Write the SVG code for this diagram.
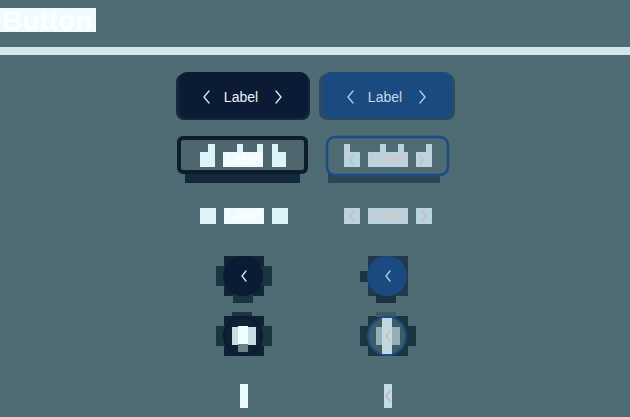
<svg xmlns="http://www.w3.org/2000/svg" width="630" height="417" viewBox="0 0 630 417">
<style>
.lbl{font-family:"Liberation Sans",Arial,sans-serif;font-size:14px;text-anchor:middle}
.chev{fill:none;stroke-width:1.3;stroke-linecap:round;stroke-linejoin:round}
.shadow{fill:#13283a}
.lt{fill:#dcf5fa}
.lb{fill:#bad3dc}
</style>
<rect width="630" height="417" fill="#4f6b73"/>
<g id="title">
<rect x="0" y="8" width="96" height="24" fill="#eefcff"/>
<text x="2" y="30" font-family="Liberation Sans,Arial,sans-serif" font-size="28" font-weight="bold" fill="#ffffff">Button</text>
</g>
<rect id="divider" x="0" y="47" width="630" height="8" fill="#d4e6ec"/>

<g id="btn-primary-dark">
<rect x="176" y="74" width="134" height="46" rx="8" class="shadow"/>
<rect x="179" y="72" width="129" height="46" rx="8" fill="#0b1a35"/>
<polyline class="chev" points="209,91 204,97 209,103" stroke="#dfe6f0"/>
<text class="lbl" x="241" y="102" fill="#eef2f8">Label</text>
<polyline class="chev" points="276,91 281,97 276,103" stroke="#dfe6f0"/>
</g>
<g id="btn-primary-blue">
<rect x="319" y="74" width="136" height="46" rx="8" fill="#2a4a66"/>
<rect x="323" y="72" width="129" height="46" rx="8" fill="#1b4a80"/>
<polyline class="chev" points="353,91 348,97 353,103" stroke="#b8cde3"/>
<text class="lbl" x="385" y="102" fill="#c8d8ea">Label</text>
<polyline class="chev" points="420,91 425,97 420,103" stroke="#b8cde3"/>
</g>

<g id="btn-outline-dark">
<rect x="185" y="170" width="115" height="13" class="shadow"/>
<rect x="179" y="138" width="127" height="34" rx="4" fill="#50666e" stroke="#0c1d2e" stroke-width="4"/>
<rect x="200" y="152" width="15" height="15" class="lt"/>
<rect x="208" y="144" width="7" height="8" class="lt"/>
<rect x="223" y="152" width="40" height="15" fill="#eefcff"/>
<rect x="237" y="144" width="6" height="8" class="lt"/>
<rect x="257" y="144" width="6" height="8" class="lt"/>
<rect x="272" y="152" width="14" height="15" class="lt"/>
<rect x="272" y="144" width="6" height="8" class="lt"/>
<text class="lbl" x="243" y="164" font-size="12" fill="#ffffff">Label</text>
<polyline class="chev" points="209,155 206,159.5 209,164" stroke="#f2e6ea"/>
<polyline class="chev" points="276,155 279,159.5 276,164" stroke="#f2e6ea"/>
</g>
<g id="btn-outline-blue">
<rect x="328" y="172" width="112" height="11" fill="#2a4556"/>
<rect x="327" y="137" width="121" height="38" rx="8" fill="#4f6b73" stroke="#1d4b85" stroke-width="2.5"/>
<rect x="344" y="152" width="16" height="15" class="lb"/>
<rect x="344" y="144" width="6" height="8" class="lb"/>
<rect x="368" y="152" width="40" height="15" class="lb"/>
<rect x="380" y="144" width="6" height="8" class="lb"/>
<rect x="398" y="144" width="6" height="8" class="lb"/>
<rect x="416" y="152" width="16" height="15" class="lb"/>
<rect x="426" y="144" width="6" height="8" class="lb"/>
<text class="lbl" x="388" y="164" font-size="12" fill="#d0c8cc">Label</text>
<polyline class="chev" points="353,155 350,159.5 353,164" stroke="#c9b8be"/>
<polyline class="chev" points="420,155 423,159.5 420,164" stroke="#c9b8be"/>
</g>

<g id="btn-text-dark">
<rect x="200" y="208" width="16" height="16" class="lt"/>
<rect x="224" y="208" width="40" height="16" fill="#eefcff"/>
<rect x="272" y="208" width="16" height="16" class="lt"/>
<text class="lbl" x="244" y="220" font-size="12" fill="#ffffff">Label</text>
<polyline class="chev" points="210,212 206,216 210,220" stroke="#f2e6ea"/>
<polyline class="chev" points="278,212 282,216 278,220" stroke="#f2e6ea"/>
</g>
<g id="btn-text-blue">
<rect x="344" y="208" width="16" height="16" class="lb"/>
<rect x="368" y="208" width="40" height="16" class="lb"/>
<rect x="416" y="208" width="16" height="16" class="lb"/>
<text class="lbl" x="388" y="220" font-size="12" fill="#d4c9cd">Label</text>
<polyline class="chev" points="354,212 350,216 354,220" stroke="#c9b8be"/>
<polyline class="chev" points="422,212 426,216 422,220" stroke="#c9b8be"/>
</g>

<g id="icon-solid-dark">
<rect x="224" y="256" width="40" height="40" fill="#102434"/>
<rect x="216" y="266" width="56" height="20" fill="#1a3440"/>
<rect x="233" y="294" width="20" height="9" fill="#1a3440"/>
<circle cx="243" cy="276" r="20" fill="#0b1a35"/>
<polyline class="chev" points="246,271 242,276 246,281" stroke="#dfe6f0"/>
</g>
<g id="icon-solid-blue">
<rect x="368" y="256" width="40" height="40" fill="#203a4c"/>
<rect x="360" y="271" width="16" height="11" fill="#1a3440"/>
<rect x="376" y="294" width="20" height="9" fill="#1a3440"/>
<circle cx="387" cy="276" r="20" fill="#1b4a80"/>
<polyline class="chev" points="390,271 386,276 390,281" stroke="#b8cde3"/>
</g>

<g id="icon-outline-dark">
<rect x="232" y="312" width="20" height="5" fill="#1a3440"/>
<rect x="224" y="316" width="40" height="40" fill="#0e2233"/>
<rect x="216" y="326" width="56" height="20" fill="#1a3440"/>
<circle cx="243" cy="336" r="19" fill="#0e2233" stroke="#0b1a35" stroke-width="2"/>
<rect x="232" y="327" width="24" height="18" fill="#c9dde2"/>
<rect x="238" y="344" width="10" height="8" fill="#6b8288"/>
<rect x="238" y="326" width="10" height="18" fill="#f0ffff"/>
</g>
<g id="icon-outline-blue">
<rect x="368" y="316" width="40" height="40" fill="#1a3440"/>
<rect x="360" y="326" width="56" height="20" fill="#1a3440"/>
<rect x="376" y="312" width="20" height="5" fill="#3c5864"/>
<circle cx="387" cy="336" r="19" fill="#3e5b66" stroke="#1d4b85" stroke-width="2"/>
<rect x="376" y="327" width="24" height="18" fill="#8fb0bb"/>
<rect x="382" y="318" width="10" height="36" fill="#c0d8df"/>
<polyline class="chev" points="390,331 386,336 390,341" stroke="#d8b8b0"/>
</g>

<g id="icon-text-dark">
<rect x="240" y="384" width="8" height="24" fill="#e8fcff"/>
<polyline class="chev" points="246,392 243,396 246,400" stroke="#f0f4f6"/>
</g>
<g id="icon-text-blue">
<rect x="384" y="384" width="8" height="24" fill="#c3dbe3"/>
<polyline class="chev" points="390,391 386,396 390,401" stroke="#c9b0b8"/>
</g>
</svg>
